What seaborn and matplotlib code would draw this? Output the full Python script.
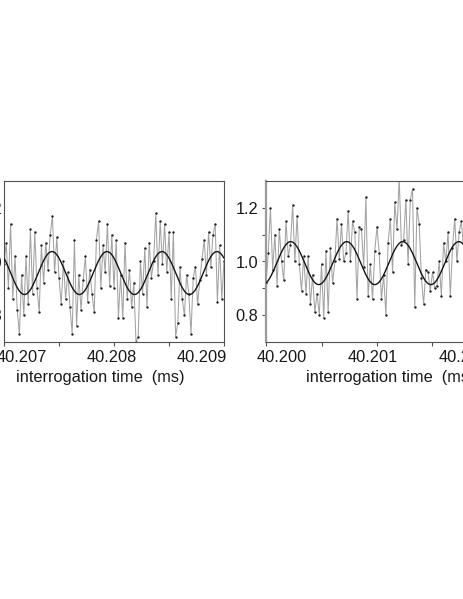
import numpy as np
import pandas as pd
import seaborn as sns
import matplotlib
matplotlib.use("Agg")
import matplotlib.pyplot as plt
import matplotlib.transforms as mtransforms

# ---------------- data ----------------
# left panel: interrogation time starts at 40.207 ms, step 0.00002 ms
left_t0 = 40.207
left_step = 0.00002
left_signal = [
    0.99, 1.07, 0.90, 1.14, 0.86, 1.02, 0.82, 0.73, 0.95, 0.80,
    1.02, 0.84, 1.12, 0.88, 1.11, 0.90, 0.81, 1.06, 0.92, 1.07,
    0.97, 1.10, 1.17, 0.96, 1.09, 0.94, 0.84, 1.00, 0.86, 0.96,
    0.83, 0.73, 1.08, 0.76, 0.95, 0.82, 0.93, 1.02, 0.85, 0.97,
    0.88, 0.81, 1.08, 1.15, 0.90, 1.06, 0.96, 1.14, 0.91, 1.10,
    0.90, 1.08, 0.79, 0.95, 0.79, 1.07, 0.86, 0.97, 0.83, 0.92,
    0.70, 0.72, 1.00, 0.88, 1.05, 0.83, 1.07, 0.94, 1.00, 1.18,
    0.95, 1.15, 0.99, 1.14, 0.96, 1.11, 0.86, 1.11, 0.72, 0.77,
    0.98, 0.86, 0.80, 0.95, 0.88, 0.73, 0.94, 0.98, 0.84, 0.93,
    1.01, 1.08, 0.95, 1.11, 0.98, 1.10, 1.14, 0.85, 1.06, 0.86,
    1.00,
]
# right panel: interrogation time starts at 40.200 ms, step 0.00002 ms
right_t0 = 40.200
right_step = 0.00002
right_signal = [
    0.92, 1.03, 1.20, 0.97, 1.10, 0.91, 1.12, 1.00, 0.93, 1.15,
    1.02, 1.06, 1.21, 1.00, 1.17, 0.99, 0.89, 1.02, 0.88, 1.02,
    0.84, 0.95, 0.81, 0.88, 0.80, 0.99, 0.79, 1.04, 0.81, 1.05,
    0.92, 1.00, 1.16, 1.01, 1.14, 1.00, 1.03, 1.19, 1.00, 1.15,
    1.11, 0.86, 1.13, 1.12, 0.98, 1.24, 0.87, 0.99, 0.86, 1.04,
    1.13, 1.03, 0.86, 0.95, 0.80, 1.07, 1.16, 0.96, 1.22, 1.12,
    1.31, 1.06, 1.08, 1.23, 0.99, 1.23, 1.27, 0.83, 1.20, 1.14,
    0.94, 0.84, 0.97, 0.96, 0.89, 0.96, 0.90, 0.91, 1.00, 0.87,
    1.07, 1.00, 1.11, 0.87, 1.05, 1.16, 1.00, 1.11, 1.15, 1.05,
    1.08, 0.94, 1.06, 0.97, 1.02, 0.90, 1.04, 0.96, 0.88, 1.00,
    0.94,
]

# sinusoidal fit parameters: offset, amplitude, period (ms), time of a maximum (ms)
left_fit = dict(offset=0.957, amplitude=0.080, period=0.000500, t_peak=40.207436)
right_fit = dict(offset=0.994, amplitude=0.080, period=0.000505, t_peak=40.2002225)

left_xlim = (40.207, 40.209)
right_xlim = (40.200, 40.202)
ylim = (0.7, 1.3)
left_xticks = [40.207, 40.208, 40.209]
left_xticklabels = ["40.207", "40.208", "40.209"]
right_xticks = [40.200, 40.201, 40.202]
right_xticklabels = ["40.200", "40.201", "40.202"]
yticks = [0.8, 1.0, 1.2]
yticklabels = ["0.8", "1.0", "1.2"]
xlabel = "interrogation time  (ms)"

# ---------------- style ----------------
sns.set_style("ticks")
plt.rcParams["font.family"] = ["Liberation Sans", "DejaVu Sans"]
FS = 11.8
SPINE = "#505050"

fig = plt.figure(figsize=(4.63, 5.99), dpi=100)
W, H = 463.0, 599.0
ax_l = fig.add_axes([4 / W, (H - 342) / H, 220 / W, 161 / H])
ax_r = fig.add_axes([266 / W, (H - 342) / H, 222 / W, 161 / H])


def draw_panel(ax, t0, step, signal, fit, xlim, xticks, xticklabels,
               label_shift, xlabel_x, show_left_ticks, show_right_ticks):
    t = t0 + step * np.arange(len(signal))
    df = pd.DataFrame({"t": t, "signal": signal})
    sns.lineplot(data=df, x="t", y="signal", ax=ax, color="#a3a3a3",
                 linewidth=0.75, estimator=None, sort=False,
                 marker="o", markersize=1.7, markerfacecolor="#1a1a1a",
                 markeredgewidth=0, zorder=2)
    tf = np.linspace(xlim[0], xlim[1], 1200)
    yf = fit["offset"] + fit["amplitude"] * np.cos(2 * np.pi * (tf - fit["t_peak"]) / fit["period"])
    sns.lineplot(x=tf, y=yf, ax=ax, color="#151515", linewidth=1.0,
                 estimator=None, sort=False, zorder=3)

    ax.set_xlim(*xlim)
    ax.set_ylim(*ylim)
    ax.set_xticks(xticks)
    ax.set_xticks([(a + b) / 2 for a, b in zip(xticks[:-1], xticks[1:])], minor=True)
    ax.set_yticks(yticks)
    ax.set_yticks([0.9, 1.1], minor=True)
    ax.set_yticklabels(yticklabels, fontsize=FS, color="#1a1a1a")
    ax.tick_params(axis="x", which="both", direction="out", length=3, width=0.8,
                   color=SPINE, labelbottom=False)
    ax.tick_params(axis="y", which="both", direction="out",
                   length=3 if show_left_ticks else 0, width=0.8, color=SPINE,
                   pad=2.5 if show_left_ticks else 1.2,
                   right=show_right_ticks)
    for s in ax.spines.values():
        s.set_color(SPINE)
        s.set_linewidth(0.8)
    ax.set_xlabel("")
    ax.set_ylabel("")

    # tick labels (the original labels sit on a slightly compressed spacing)
    mid = xticks[1]
    trans = mtransforms.blended_transform_factory(ax.transData, ax.transAxes)
    for tv, lab in zip(xticks, xticklabels):
        xpos = mid + 0.82 * (tv - mid) + label_shift
        ax.text(xpos, -0.047, lab, transform=trans, ha="center", va="top",
                fontsize=FS, color="#1a1a1a", clip_on=False)
    ax.text(xlabel_x, -0.171, xlabel, transform=ax.transAxes, ha="center",
            va="top", fontsize=FS, color="#1a1a1a")


draw_panel(ax_l, left_t0, left_step, left_signal, left_fit, left_xlim,
           left_xticks, left_xticklabels, -0.0000182, 0.436, False, True)
draw_panel(ax_r, right_t0, right_step, right_signal, right_fit, right_xlim,
           right_xticks, right_xticklabels, -0.0000405, 0.559, True, False)
ax_r.spines["left"].set_color("#9a9a9a")
ax_r.spines["left"].set_linewidth(1.6)

fig.savefig("out.png", dpi=100, facecolor="white")
